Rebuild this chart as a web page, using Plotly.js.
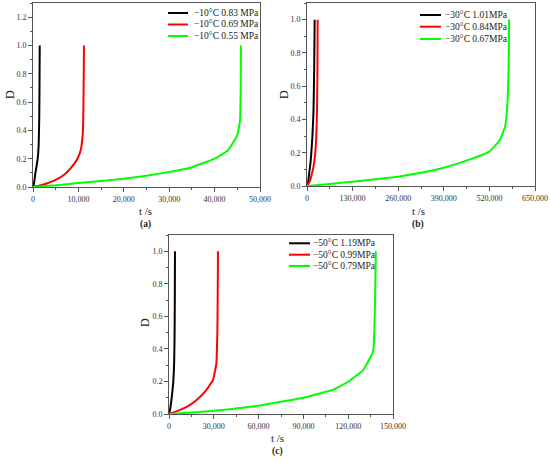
<!DOCTYPE html>
<html>
<head>
<meta charset="utf-8">
<script src="https://cdn.plot.ly/plotly-3.0.1.min.js"></script>
<style>html,body{margin:0;padding:0;background:#fff;}#chart{width:550px;height:461px;}</style>
</head>
<body>
<div id="chart"></div>
<script>
// ---- Data ----
const a_labels = ["\u221210\u00B0C 0.83 MPa", "\u221210\u00B0C 0.69 MPa", "\u221210\u00B0C 0.55 MPa"];
const b_labels = ["\u221230\u00B0C 1.01MPa", "\u221230\u00B0C 0.84MPa", "\u221230\u00B0C 0.67MPa"];
const c_labels = ["\u221250\u00B0C 1.19MPa", "\u221250\u00B0C 0.99MPa", "\u221250\u00B0C 0.79MPa"];
const series_colors = ["#000000", "#ff0000", "#00ff00"];

const a_black_t = [0, 200, 530, 800, 1030, 1250, 1380, 1440, 1480];
const a_black_D = [0, 0.02, 0.1, 0.15, 0.2, 0.3, 0.5, 0.75, 1.0];
const a_red_t = [0, 1500, 3000, 5000, 7000, 8500, 9800, 10500, 10900, 11050, 11150, 11230];
const a_red_D = [0, 0.01, 0.025, 0.05, 0.09, 0.14, 0.2, 0.26, 0.35, 0.45, 0.7, 1.0];
const a_green_t = [0, 5000, 10000, 15000, 20000, 25000, 30000, 35000, 40000, 43000, 45000, 45600, 45750, 45800];
const a_green_D = [0, 0.012, 0.028, 0.042, 0.059, 0.08, 0.106, 0.14, 0.2, 0.26, 0.367, 0.47, 0.7, 1.0];

const b_black_t = [0, 3000, 7600, 10500, 12300, 15500, 18500, 20500, 21800];
const b_black_D = [0, 0.02, 0.1, 0.15, 0.2, 0.3, 0.45, 0.7, 1.0];
const b_red_t = [0, 8000, 17000, 21000, 23700, 26500, 28500, 29800, 30400];
const b_red_D = [0, 0.03, 0.1, 0.15, 0.2, 0.3, 0.45, 0.7, 1.0];
const b_green_t = [0, 65000, 130000, 195000, 260000, 325000, 390000, 460000, 520000, 550000, 565000, 572000, 575000, 576000];
const b_green_D = [0, 0.012, 0.026, 0.04, 0.056, 0.08, 0.11, 0.157, 0.207, 0.277, 0.36, 0.52, 0.72, 1.0];

const c_black_t = [0, 800, 1800, 2400, 2900, 3400, 3700, 3900, 4000];
const c_black_D = [0, 0.03, 0.1, 0.15, 0.2, 0.3, 0.45, 0.7, 1.0];
const c_red_t = [0, 7100, 13000, 18300, 25000, 29500, 31700, 32400, 32600, 32800];
const c_red_D = [0, 0.024, 0.05, 0.085, 0.147, 0.21, 0.31, 0.51, 0.7, 1.0];
const c_green_t = [0, 20000, 40600, 60000, 90000, 110000, 120000, 130000, 135000, 136800, 137500, 138000, 138500];
const c_green_D = [0, 0.012, 0.029, 0.051, 0.1, 0.15, 0.198, 0.27, 0.35, 0.39, 0.51, 0.7, 1.0];

// ---- Build traces ----
const panels = [
  {xa: "x", ya: "y", labels: a_labels, t: [a_black_t, a_red_t, a_green_t], D: [a_black_D, a_red_D, a_green_D]},
  {xa: "x2", ya: "y2", labels: b_labels, t: [b_black_t, b_red_t, b_green_t], D: [b_black_D, b_red_D, b_green_D]},
  {xa: "x3", ya: "y3", labels: c_labels, t: [c_black_t, c_red_t, c_green_t], D: [c_black_D, c_red_D, c_green_D]}
];
const traces = [];
panels.forEach(p => {
  for (let i = 0; i < 3; i++) {
    traces.push({
      type: "scatter", mode: "lines", x: p.t[i], y: p.D[i], xaxis: p.xa, yaxis: p.ya,
      name: p.labels[i], showlegend: false,
      line: {color: series_colors[i], width: 2, shape: "spline", smoothing: 0.3}
    });
  }
});

const serif = "Liberation Serif, Times New Roman, serif";
const axisCol = "#555555";
function xax(domain, range, dtick, anchor) {
  return {domain: domain, range: range, dtick: dtick, tick0: 0, anchor: anchor,
    showline: true, mirror: true, linecolor: axisCol, linewidth: 1,
    ticks: "outside", ticklen: 4, tickcolor: axisCol, tickwidth: 1,
    minor: {ticks: "outside", ticklen: 2, tickcolor: axisCol, dtick: dtick / 2},
    showgrid: false, zeroline: false, tickformat: ",d",
    tickfont: {family: serif, size: 8, color: "#333"}};
}
function yax(domain, range, anchor) {
  return {domain: domain, range: range, dtick: 0.2, tick0: 0, anchor: anchor,
    showline: true, mirror: true, linecolor: axisCol, linewidth: 1,
    ticks: "outside", ticklen: 4, tickcolor: axisCol, tickwidth: 1,
    minor: {ticks: "outside", ticklen: 2, tickcolor: axisCol, dtick: 0.1},
    showgrid: false, zeroline: false, tickformat: ".1f",
    tickfont: {family: serif, size: 8, color: "#333"}};
}

const W = 550, H = 461;
const px = v => v / W, py = v => 1 - v / H;

const annotations = [];
const shapes = [];
// axis titles and panel labels
const titlePos = [
  {cx: 145, ty: 210.5, ly: 224, dx: 10, dy: 95, tag: "<b>(a)</b>"},
  {cx: 418, ty: 210.5, ly: 224, dx: 284, dy: 95, tag: "<b>(b)</b>"},
  {cx: 277, ty: 437.5, ly: 451.5, dx: 145, dy: 323, tag: "<b>(c)</b>"}
];
titlePos.forEach(tp => {
  annotations.push({xref: "paper", yref: "paper", x: px(tp.cx), y: py(tp.ty), text: "t /s", showarrow: false,
    xanchor: "center", yanchor: "middle", font: {family: serif, size: 11, color: "#222"}});
  annotations.push({xref: "paper", yref: "paper", x: px(tp.cx), y: py(tp.ly), text: tp.tag, showarrow: false,
    xanchor: "center", yanchor: "middle", font: {family: serif, size: 9.5, color: "#222"}});
  annotations.push({xref: "paper", yref: "paper", x: px(tp.dx), y: py(tp.dy), text: "D", showarrow: false,
    textangle: -90, xanchor: "center", yanchor: "middle", font: {family: serif, size: 12, color: "#222"}});
});
// legends (line sample + label)
const legPos = [
  {x0: 168, x1: 188, tx: 192, rows: [13, 24.5, 36]},
  {x0: 420, x1: 441, tx: 443, rows: [15, 26.7, 39]},
  {x0: 289, x1: 310, tx: 311, rows: [243.3, 254.7, 266]}
];
legPos.forEach((lp, k) => {
  for (let i = 0; i < 3; i++) {
    shapes.push({type: "line", xref: "paper", yref: "paper", x0: px(lp.x0), x1: px(lp.x1), y0: py(lp.rows[i]), y1: py(lp.rows[i]),
      line: {color: series_colors[i], width: 2}});
    annotations.push({xref: "paper", yref: "paper", x: px(lp.tx), y: py(lp.rows[i]), text: panels[k].labels[i], showarrow: false,
      xanchor: "left", yanchor: "middle", font: {family: serif, size: 9.5, color: "#222"}});
  }
});

const layout = {
  width: W, height: H, margin: {l: 0, r: 0, t: 0, b: 0},
  paper_bgcolor: "#ffffff", plot_bgcolor: "#ffffff", showlegend: false,
  xaxis: xax([px(33), px(260)], [0, 50000], 10000, "y"),
  yaxis: yax([py(187), py(3)], [0, 1.3], "x"),
  xaxis2: xax([px(307), px(535)], [0, 650000], 130000, "y2"),
  yaxis2: yax([py(186), py(3)], [0, 1.1], "x2"),
  xaxis3: xax([px(169), px(393)], [0, 150000], 30000, "y3"),
  yaxis3: yax([py(414), py(235)], [0, 1.1], "x3"),
  annotations: annotations, shapes: shapes
};

Plotly.newPlot("chart", traces, layout, {staticPlot: true, displayModeBar: false});
</script>
</body>
</html>
